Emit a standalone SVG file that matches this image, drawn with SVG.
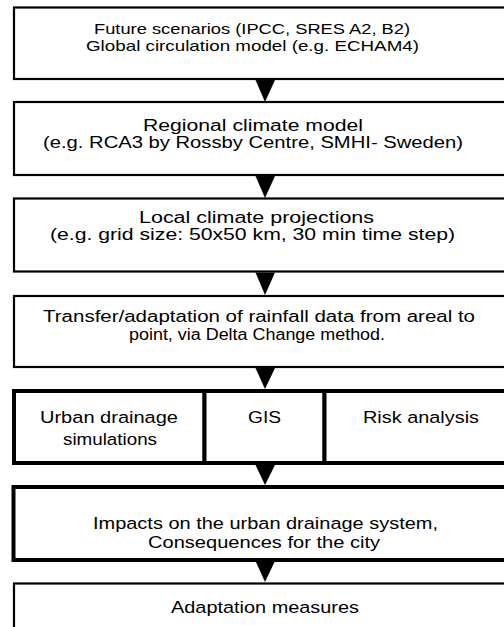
<svg xmlns="http://www.w3.org/2000/svg" width="504" height="627" viewBox="0 0 504 627">
<style>
.box{fill:#fff;stroke:#000;stroke-width:2.2}
.thick{fill:#fff;stroke:#000;stroke-width:4}
text{font-family:"Liberation Sans",Arial,sans-serif;font-size:20px;fill:#000;text-anchor:middle}
.sm{font-size:18.5px}
.arr{fill:#000}
</style>
<rect width="504" height="627" fill="#fff"/>
<g id="n1"><rect class="box" x="14" y="7.5" width="520" height="71.5"/>
<text class="sm" transform="translate(252 34) scale(1 0.8)" textLength="316" lengthAdjust="spacingAndGlyphs">Future scenarios (IPCC, SRES A2, B2)</text>
<text class="sm" transform="translate(252.5 51) scale(1 0.8)" textLength="333" lengthAdjust="spacingAndGlyphs">Global circulation model (e.g. ECHAM4)</text></g>
<g id="n2"><rect class="box" x="14" y="102" width="520" height="73"/>
<text transform="translate(253 131) scale(1 0.8)" textLength="220" lengthAdjust="spacingAndGlyphs">Regional climate model</text>
<text transform="translate(253 148) scale(1 0.8)" textLength="420" lengthAdjust="spacingAndGlyphs">(e.g. RCA3 by Rossby Centre, SMHI- Sweden)</text></g>
<g id="n3"><rect class="box" x="14" y="198.5" width="520" height="73"/>
<text transform="translate(256.5 222.5) scale(1 0.8)" textLength="235" lengthAdjust="spacingAndGlyphs">Local climate projections</text>
<text transform="translate(252.5 239.5) scale(1 0.8)" textLength="405" lengthAdjust="spacingAndGlyphs">(e.g. grid size: 50x50 km, 30 min time step)</text></g>
<g id="n4"><rect class="box" x="14" y="296" width="520" height="71"/>
<text transform="translate(259 322) scale(1 0.78)" textLength="432" lengthAdjust="spacingAndGlyphs">Transfer/adaptation of rainfall data from areal to</text>
<text transform="translate(257 339.5) scale(1 0.78)" textLength="256" lengthAdjust="spacingAndGlyphs">point, via Delta Change method.</text></g>
<g id="n5a"><rect class="thick" x="14" y="391" width="190.5" height="72"/>
<text transform="translate(109 423) scale(1 0.84)" textLength="138" lengthAdjust="spacingAndGlyphs">Urban drainage</text>
<text transform="translate(110 445) scale(1 0.84)" textLength="94" lengthAdjust="spacingAndGlyphs">simulations</text></g>
<g id="n5b"><rect class="thick" x="204.5" y="391" width="120" height="72"/>
<text transform="translate(264.5 423) scale(1 0.84)" textLength="33" lengthAdjust="spacingAndGlyphs">GIS</text></g>
<g id="n5c"><rect class="thick" x="324.5" y="391" width="210" height="72"/>
<text transform="translate(421 423) scale(1 0.84)" textLength="116" lengthAdjust="spacingAndGlyphs">Risk analysis</text></g>
<g id="n6"><rect class="thick" x="13.5" y="487" width="520" height="73"/>
<text transform="translate(265.5 529) scale(1 0.84)" textLength="345" lengthAdjust="spacingAndGlyphs">Impacts on the urban drainage system,</text>
<text transform="translate(264 548) scale(1 0.84)" textLength="232" lengthAdjust="spacingAndGlyphs">Consequences for the city</text></g>
<g id="n7"><rect class="box" x="14" y="583.5" width="520" height="60"/>
<text transform="translate(265 613) scale(1 0.84)" textLength="188" lengthAdjust="spacingAndGlyphs">Adaptation measures</text></g>
<g id="connectors">
<polygon class="arr" points="255.5,80 275,80 265,102"/>
<polygon class="arr" points="255.5,176 275,176 265,198"/>
<polygon class="arr" points="255.5,272.5 275,272.5 265,295"/>
<polygon class="arr" points="255.5,368 275,368 265,389"/>
<polygon class="arr" points="255.5,465 275,465 265,485"/>
<polygon class="arr" points="255.5,561 275,561 265,582"/>
</g>
</svg>
